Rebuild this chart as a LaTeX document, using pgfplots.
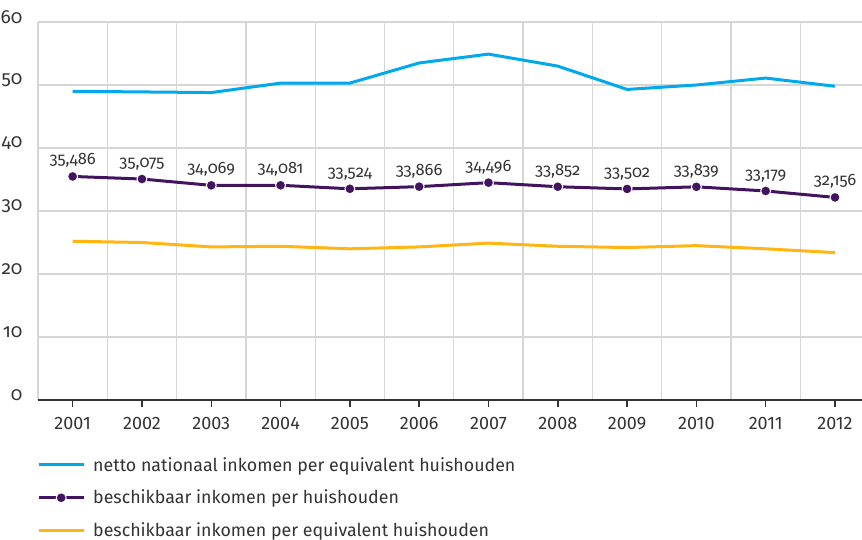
\documentclass[border=0pt]{standalone}
\usepackage{fontspec}
\setmainfont{Fira Sans}
\newfontfamily\osf{Fira Sans}[Numbers=OldStyle]
\usepackage{pgfplots}
\pgfplotsset{compat=1.18}
\definecolor{cblue}{HTML}{00A9EC}
\definecolor{cpurple}{HTML}{42145F}
\definecolor{cyellow}{HTML}{FFB612}
\definecolor{cgrid}{HTML}{D6D6D6}
\definecolor{cdark}{HTML}{333333}
\begin{document}
\begin{tikzpicture}
\useasboundingbox (0,0) rectangle (862pt,540pt);
\begin{axis}[
  at={(38pt,140pt)}, anchor=south west,
  scale only axis, width=824pt, height=378pt,
  xmin=-0.5, xmax=11.39, ymin=0, ymax=60,
  axis x line*=bottom, axis y line*=left,
  x axis line style={draw=cdark, line width=1.5pt, -},
  y axis line style={draw=none},
  xtick={0,1,2,3,4,5,6,7,8,9,10,11},
  xticklabels={2001,2002,2003,2004,2005,2006,2007,2008,2009,2010,2011,2012},
  minor xtick={-0.5,0.5,1.5,2.5,3.5,4.5,5.5,6.5,7.5,8.5,9.5,10.5},
  xminorgrids, ymajorgrids,
  grid style={draw=cgrid, line width=1.3pt},
  minor grid style={draw=cgrid, line width=1.3pt},
  ytick={0,10,20,30,40,50,60},
  yticklabels={0,10,20,30,40,50,60},
  tick align=outside,
  major tick length=7pt, minor tick length=0pt,
  xtick style={draw=cdark, line width=1.5pt},
  ytick style={draw=none},
  xticklabel style={font=\fontsize{18}{20}\selectfont, text=cdark, yshift=-7pt},
  yticklabel style={font=\osf\fontsize{19}{20}\selectfont, text=cdark, anchor=east, xshift=-5pt, yshift=5pt},
  legend style={at={(0,0)}, anchor=north west, xshift=-4pt, yshift=-53pt,
    draw=none, fill=none, font=\fontsize{17.8}{20}\selectfont, text=cdark,
    row sep=13.5pt, cells={anchor=west}, nodes={inner xsep=8pt}},
  legend cell align=left,
  legend image code/.code={\draw[mark repeat=2,mark phase=2,#1] plot coordinates {(0pt,0pt) (22.5pt,0pt) (45pt,0pt)};},
  clip=false,
]
\addplot[cblue, line width=3pt, mark=none] coordinates {
 (0,49.0) (1,48.9) (2,48.8) (3,50.3) (4,50.3) (5,53.5) (6,54.9) (7,53.0) (8,49.3) (9,50.0) (10,51.1) (11,49.8)};
\addlegendentry{netto nationaal inkomen per equivalent huishouden}
\addplot[cpurple, line width=3pt, mark=*, mark size=5pt,
  mark options={fill=cpurple, draw=white, line width=1pt},
  nodes near coords, point meta=explicit symbolic,
  nodes near coords style={font=\osf\fontsize{16.5}{18}\selectfont, text=cdark, anchor=south, yshift=5pt}]
 table[meta=label] {
x y label
0 35.486 35,486
1 35.075 35,075
2 34.069 34,069
3 34.081 34,081
4 33.524 33,524
5 33.866 33,866
6 34.496 34,496
7 33.852 33,852
8 33.502 33,502
9 33.839 33,839
10 33.179 33,179
11 32.156 32,156
};
\addlegendentry{beschikbaar inkomen per huishouden}
\addplot[cyellow, line width=3pt, mark=none] coordinates {
 (0,25.2) (1,25.0) (2,24.3) (3,24.4) (4,24.0) (5,24.3) (6,24.9) (7,24.4) (8,24.2) (9,24.5) (10,24.0) (11,23.4)};
\addlegendentry{beschikbaar inkomen per equivalent huishouden}
\end{axis}
\end{tikzpicture}
\end{document}
